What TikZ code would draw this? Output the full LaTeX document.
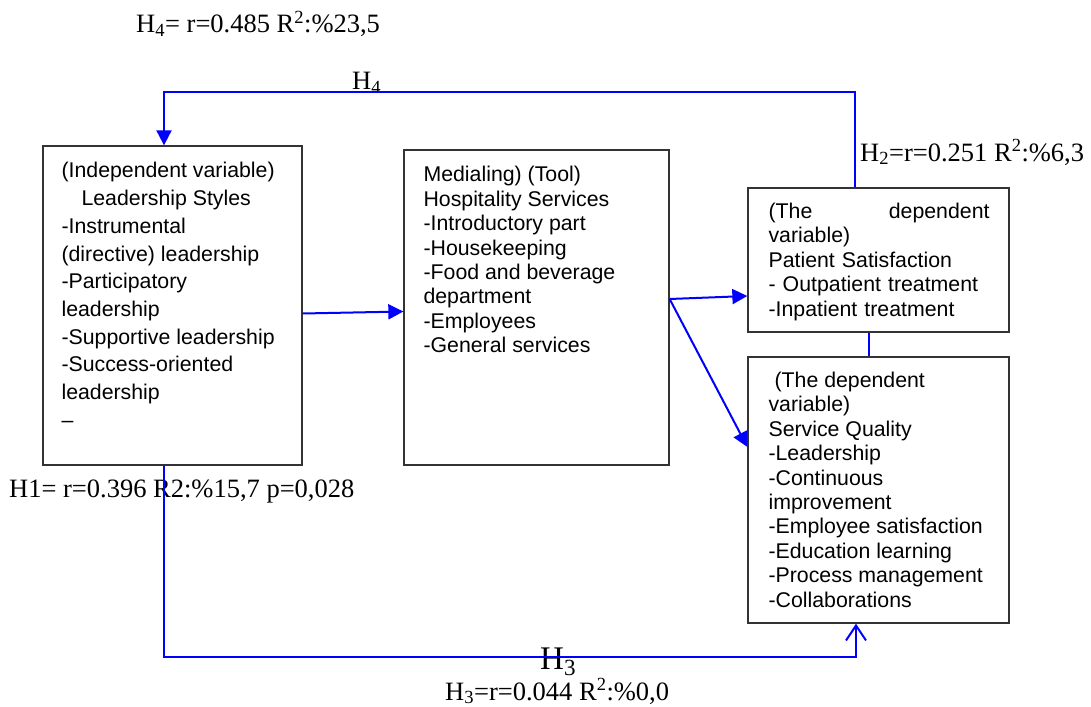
\documentclass[tikz,border=0pt]{standalone}
\usepackage{fontspec}
\newfontfamily\boxfont{Liberation Sans}
\newfontfamily\statfont{Liberation Serif}
\usetikzlibrary{calc, positioning, arrows.meta}

\begin{document}
\begin{tikzpicture}[x=1pt, y=-1pt,
    var/.style={rectangle, draw=black!80, line width=1.3pt, inner sep=0pt},
    vartext/.style={inner sep=0pt, align=left, font=\boxfont\fontsize{21.3}{24.4}\selectfont},
    stat/.style={inner sep=0pt, anchor=base west, font=\statfont\fontsize{26.5}{30}\selectfont},
    link/.style={draw=blue, line width=2pt},
    tip/.style={-{Triangle[length=15pt, width=15pt]}}]
    \useasboundingbox (0,0) rectangle (1091,706);

    % boxes
    \node[var, minimum width=259pt, minimum height=319pt] (LS) at (172.5,305.5) {};
    \node[var, minimum width=265pt, minimum height=315pt] (HS) at (536.5,307.5) {};
    \node[var, minimum width=261pt, minimum height=144pt] (PS) at (878.5,260) {};
    \node[var, minimum width=261pt, minimum height=266pt] (SQ) at (878.5,490) {};

    \node[vartext, font=\boxfont\fontsize{21.3}{27.7}\selectfont, below right=17pt and 19pt of LS.north west] (LStext)
        {(Independent variable)\\\hspace*{20pt}Leadership Styles\\-Instrumental\\(directive) leadership\\-Participatory\\leadership\\-Supportive leadership\\-Success-oriented\\leadership\\–};
    \node[vartext, below right=17pt and 20pt of HS.north west] (HStext)
        {Medialing) (Tool)\\Hospitality Services\\-Introductory part\\-Housekeeping\\-Food and beverage\\department\\-Employees\\-General services};
    \node[vartext, text width=221pt, below right=15.5pt and 21pt of PS.north west] (PStext)
        {(The\hfill dependent\\variable)\\Patient Satisfaction\\- Outpatient treatment\\-Inpatient treatment};
    \node[vartext, below right=15.5pt and 21pt of SQ.north west] (SQtext)
        {\hspace*{6pt}(The dependent\\variable)\\Service Quality\\-Leadership\\-Continuous\\improvement\\-Employee satisfaction\\-Education learning\\-Process management\\-Collaborations};

    % statistics
    \node[stat] (H4stat) at (136,33) {H\textsubscript{4}= r=0.485 R\textsuperscript{2}:\%23,5};
    \node[stat] (H2stat) at (860,161) {H\textsubscript{2}=r=0.251 R\textsuperscript{2}:\%6,3};
    \node[stat] (H1stat) at (9,497) {H1= r=0.396 R2:\%15,7 p=0,028};
    \node[stat] (H3stat) at (445,700) {H\textsubscript{3}=r=0.044 R\textsuperscript{2}:\%0,0};
    \node[stat] (H4lab) at (352,90) {H\textsubscript{4}};
    \node[stat, font=\statfont\fontsize{33}{36}\selectfont] (H3lab) at (540,669) {H\textsubscript{3}};

    % connectors
    \coordinate (H4R) at (855,92);
    \coordinate (H4L) at (164,92);
    \draw[link, tip] (H4R |- PS.north) -- (H4R) -- (H4L) -- (H4L |- LS.north);

    \draw[link, tip] ($(LS.east)+(0,8)$) -- ($(HS.west)+(0,4)$);
    \coordinate (fork) at ($(HS.east)+(0,-8.5)$);
    \draw[link, tip] (fork) -- ($(PS.west)+(0,36)$);
    \draw[link, tip] (fork) -- ($(SQ.west)+(0,-43)$);
    \draw[link, line width=1.3pt] ($(PS.south)+(-9.5,0)$) -- ($(SQ.north)+(-9.5,0)$);

    \coordinate (H3L) at (164,657);
    \coordinate (H3R) at (856,657);
    \draw[link, -{Straight Barb[length=15pt, width=20pt]}] (H3L |- LS.south) -- (H3L) -- (H3R) -- (H3R |- SQ.south);
\end{tikzpicture}
\end{document}
